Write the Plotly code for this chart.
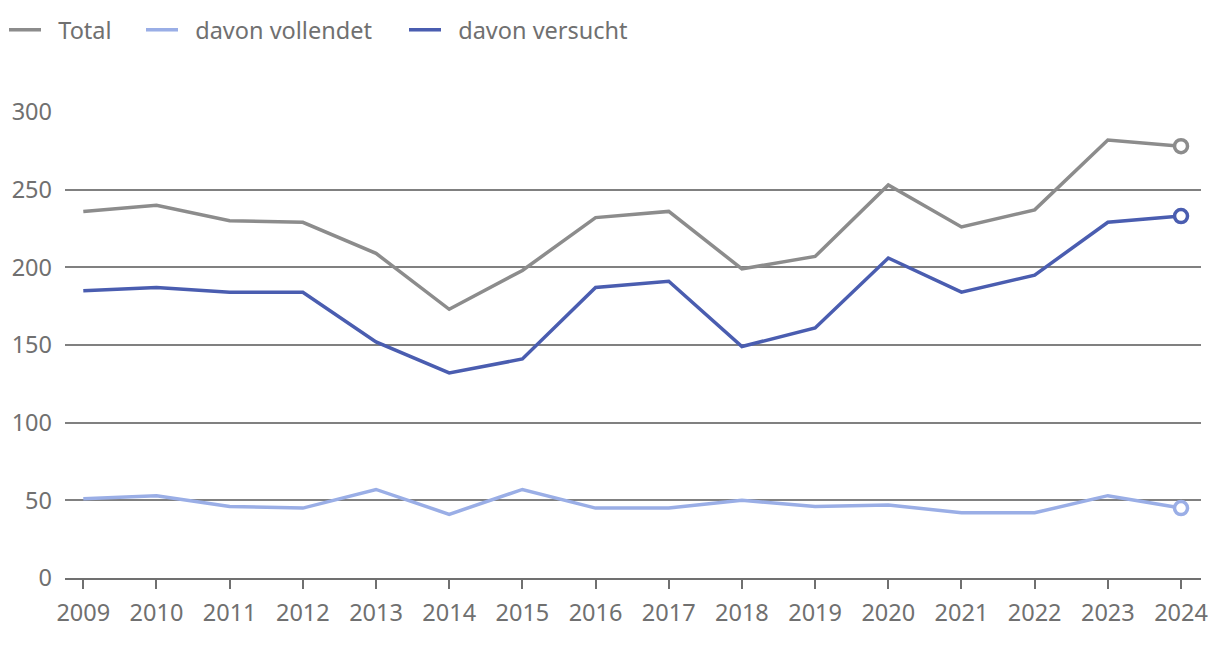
import plotly.graph_objects as go

years = list(range(2009, 2025))
total = [236, 240, 230, 229, 209, 173, 198, 232, 236, 199, 207, 253, 226, 237, 282, 278]
vollendet = [51, 53, 46, 45, 57, 41, 57, 45, 45, 50, 46, 47, 42, 42, 53, 45]
versucht = [185, 187, 184, 184, 152, 132, 141, 187, 191, 149, 161, 206, 184, 195, 229, 233]

names = ["Total", "davon vollendet", "davon versucht"]
colors = ["#8c8c8c", "#9aaee6", "#4a5db0"]
series = [total, vollendet, versucht]
legend_ids = ["legend", "legend2", "legend3"]
legend_x_px = [4, 141, 404]
lead = "\u00a0" * 2

fig = go.Figure()
for name, col, vals, lid in zip(names, colors, series, legend_ids):
    fig.add_trace(go.Scatter(
        x=years, y=vals, name=lead + name, mode="lines", legend=lid,
        line=dict(color=col, width=3.5),
        hovertemplate=name + ": %{y}<extra></extra>",
    ))
for name, col, vals in zip(names, colors, series):
    fig.add_trace(go.Scatter(
        x=years[-1:], y=vals[-1:], mode="markers", showlegend=False,
        marker=dict(size=13, color="white", line=dict(color=col, width=3.5)),
        hovertemplate=name + ": %{y}<extra></extra>",
    ))

legend_common = dict(orientation="h", xref="container", xanchor="left",
                     y=1 - 30 / 646, yref="container", yanchor="middle",
                     font=dict(size=23.5, color="#707070"), itemwidth=32,
                     bgcolor="rgba(0,0,0,0)")

fig.update_layout(
    width=1220, height=646,
    paper_bgcolor="white", plot_bgcolor="white",
    margin=dict(l=63, r=18, t=112, b=68),
    font=dict(family="Noto Sans, Open Sans, sans-serif", size=23.5, color="#707070"),
    showlegend=True,
    xaxis=dict(
        range=[2008.75, 2024.273], tickmode="array", tickvals=years,
        ticktext=[str(y) for y in years],
        showgrid=False, zeroline=False, showline=True, linecolor="#707070", linewidth=2,
        ticks="outside", ticklen=9, tickwidth=2, tickcolor="#707070",
        ticklabelstandoff=4,
        tickfont=dict(size=23.5, color="#707070"),
    ),
    yaxis=dict(
        range=[0, 300], tickmode="array", tickvals=[0, 50, 100, 150, 200, 250, 300],
        showgrid=True, gridcolor="#808080", gridwidth=1.5, zeroline=False,
        showline=False, ticks="", ticklabelstandoff=12,
        tickfont=dict(size=23.5, color="#707070"),
    ),
)
for lid, xp in zip(legend_ids, legend_x_px):
    fig.update_layout({lid: dict(legend_common, x=xp / 1220)})

fig.write_html("out.html", config={"displayModeBar": False},
               post_script="document.body.style.margin='0';")
